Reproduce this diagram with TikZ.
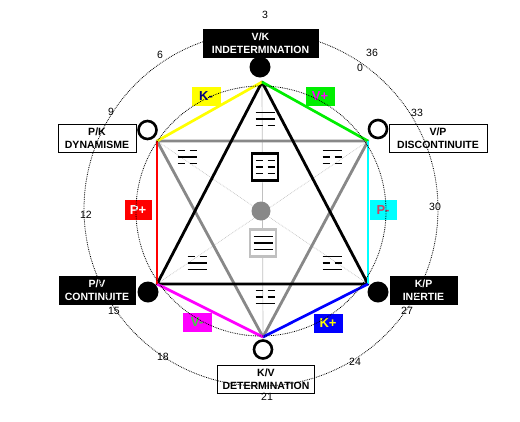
\documentclass[tikz,border=0pt]{standalone}
\usepackage{fontspec}
\setmainfont{Liberation Sans}
\definecolor{hxyellow}{HTML}{FFFF00}
\definecolor{hxgreen}{HTML}{00EE00}
\definecolor{hxcyan}{HTML}{00FFFF}
\definecolor{hxblue}{HTML}{0000FF}
\definecolor{hxmag}{HTML}{FF00FF}
\definecolor{hxred}{HTML}{FF0000}
\definecolor{midgray}{HTML}{888888}
\definecolor{lightg}{HTML}{C0C0C0}
\definecolor{navytxt}{HTML}{000080}
\definecolor{pinktxt}{HTML}{D04060}
\definecolor{greentxt}{HTML}{44CC44}
\newcommand\trigr[2]{%
  \begin{scope}[shift={#1}]
    \foreach \v [count=\i] in {#2} {
      \pgfmathsetmacro\yy{(\i-2)*6.5}
      \ifnum\v=1
        \draw[triline] (-9.5,\yy) -- (9.5,\yy);
      \else
        \draw[triline] (-9.5,\yy) -- (-2.5,\yy) (2.5,\yy) -- (9.5,\yy);
      \fi
    }
  \end{scope}}
\begin{document}
\begin{tikzpicture}[x=1pt,y=-1pt,
  hexl/.style={line width=2.7pt},
  trl/.style={line width=2.8pt},
  triline/.style={line width=1.2pt},
  guide/.style={lightg, line width=0.7pt},
  diag/.style={lightg, densely dotted, line width=0.7pt},
  circ/.style={densely dotted, line width=0.8pt},
  fdot/.style={circle, fill=black, minimum size=21pt, inner sep=0pt},
  odot/.style={circle, draw=black, line width=2.6pt, fill=white, minimum size=18pt, inner sep=0pt},
  tag/.style={draw=black, line width=1pt, align=center, inner sep=0pt, minimum height=28pt, font=\bfseries\fontsize{10.5}{12.5}\selectfont},
  btag/.style={tag, fill=black, text=white},
  wtag/.style={tag, fill=white},
  elab/.style={inner sep=0pt, minimum width=29pt, minimum height=19pt, font=\bfseries\fontsize{13}{13}\selectfont},
  num/.style={font=\fontsize{10.5}{12}\selectfont},
  cbox/.style={draw, line width=2.5pt, fill=white, minimum width=26pt, minimum height=27pt, inner sep=0pt}]
\useasboundingbox (0,0) rectangle (520,421);
% vertices
\coordinate (T) at (262,82);
\coordinate (UL) at (157,141);
\coordinate (UR) at (368,141);
\coordinate (LL) at (157,284);
\coordinate (LR) at (368,284);
\coordinate (B) at (263,337);
\coordinate (C) at (261,211);
% guide lines
\draw[guide] (T) -- (B);
\draw[diag] (UL) -- (LR);
\draw[diag] (UR) -- (LL);
% triangles
\draw[trl, midgray, line join=round] (UL) -- (UR) -- (B) -- cycle;
\draw[trl, black, line join=round] (T) -- (LR) -- (LL) -- cycle;
% hexagon
\draw[hexl, hxyellow] (T) -- (UL);
\draw[hexl, hxgreen] (T) -- (UR);
\draw[hexl, hxcyan] (UR) -- (LR);
\draw[hexl, hxblue] (LR) -- (B);
\draw[hexl, hxmag] (B) -- (LL);
\draw[hexl, hxred] (LL) -- (UL);
% centre
\node[circle, fill=midgray, minimum size=19pt, inner sep=0pt] (ctr) at (C) {};
\node[cbox, draw=black] (boxK) at (265,167) {};
\node[cbox, draw=lightg] (boxQ) at (263,243) {};
\trigr{(boxK.center)}{0,0,0}
\trigr{(boxQ.center)}{1,1,1}
\trigr{(265,119)}{1,1,0}
\trigr{(187,157)}{0,1,0}
\trigr{(332,157)}{1,0,0}
\trigr{(197,263)}{0,1,1}
\trigr{(332,263)}{1,0,1}
\trigr{(265,297)}{0,0,1}
% edge labels
\node[elab, fill=hxyellow, text=navytxt] (lK) at (206,96) {K-};
\node[elab, fill=hxgreen, text=hxmag] (lV) at (320,96) {V+};
\node[elab, fill=hxred, text=white, minimum width=27pt, minimum height=20pt] (lP) at (138,210) {P+};
\node[elab, fill=hxcyan, text=pinktxt, minimum width=27pt, minimum height=20pt] (lPm) at (383,210) {P-};
\node[elab, fill=hxmag, text=greentxt] (lVm) at (197,322) {V-};
\node[elab, fill=hxblue, text=hxyellow] (lKp) at (328,323) {K+};
% markers
\node[fdot] (mT) at (260,67) {};
\node[odot] (mUL) at (147.5,130) {};
\node[odot] (mUR) at (378,129) {};
\node[fdot] (mLL) at (148,292) {};
\node[fdot] (mLR) at (378,292) {};
\node[odot] (mB) at (263,349.5) {};
% tags
\node[btag, minimum width=115pt] (tT) at (260.5,43) {V/K\\INDETERMINATION};
\node[wtag, minimum width=78pt] (tUL) at (97,138) {P/K\\DYNAMISME};
\node[wtag, minimum width=98pt] (tUR) at (438,138) {V/P\\DISCONTINUITE};
\node[btag, minimum width=76pt] (tLL) at (97,290) {P/V\\CONTINUITE};
\node[btag, minimum width=67pt] (tLR) at (423.5,290) {K/P\\INERTIE};
\node[wtag, minimum width=97pt] (tB) at (266,379) {K/V\\DETERMINATION};
% circles
\draw[circ] (C) circle[radius=125];
\draw[circ] (261,209) circle[radius=177];
% numbers
\node[num] (n3) at (265,15) {3};
\node[num] (n6) at (160,55) {6};
\node[num] (n9) at (111,112) {9};
\node[num] (n12) at (86,215) {12};
\node[num] (n15) at (114,311) {15};
\node[num] (n18) at (163,357) {18};
\node[num] (n21) at (267,397) {21};
\node[num] (n24) at (355,362) {24};
\node[num] (n27) at (407,311) {27};
\node[num] (n30) at (435,207) {30};
\node[num] (n33) at (417,113) {33};
\node[num] (n36) at (372,53) {36};
\node[num] (n0) at (360,68) {0};
\end{tikzpicture}
\end{document}
